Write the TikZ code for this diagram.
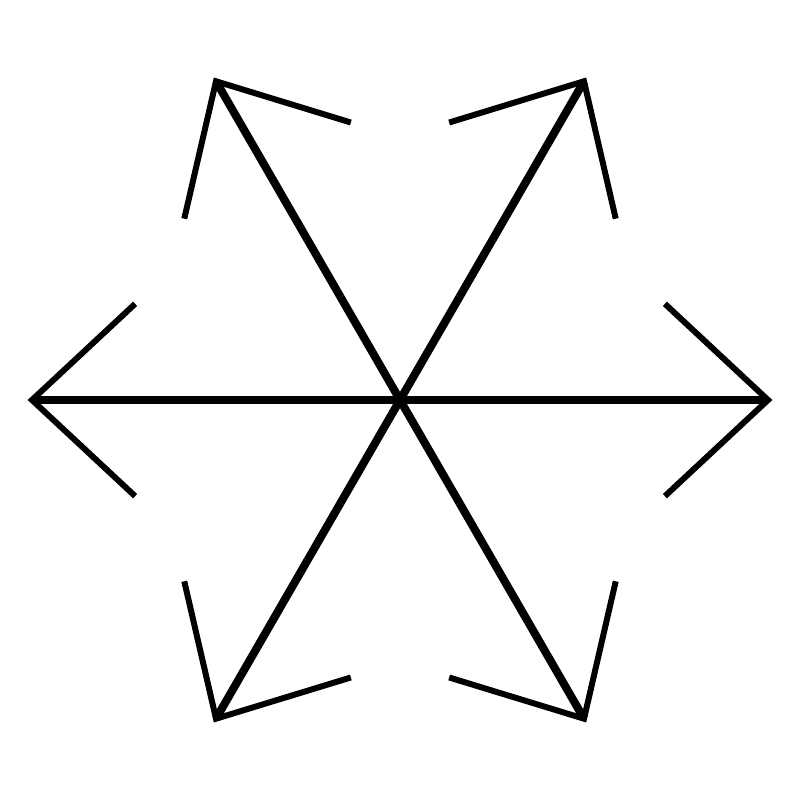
\documentclass[tikz,border=0pt]{standalone}
\usetikzlibrary{calc}
\tikzset{shaft/.style={line width=2.3pt}, barb/.style={line width=1.7pt}}
\begin{document}
\begin{tikzpicture}
		\useasboundingbox (0,0) rectangle (8,8);
		\coordinate (mid) at (4,4);
		\foreach \ang [count=\k] in {0,60,120,180,240,300}{
			\coordinate (tip\k) at ($(mid)+(\ang:3.68)$);
			\coordinate (wa\k) at ($(tip\k)+(\ang+180-43:1.41)$);
			\coordinate (wb\k) at ($(tip\k)+(\ang+180+43:1.41)$);
			\draw[shaft] (mid) -- (tip\k);
			\draw[barb] (wa\k) -- (tip\k) -- (wb\k);
		}
	\end{tikzpicture}
\end{document}
